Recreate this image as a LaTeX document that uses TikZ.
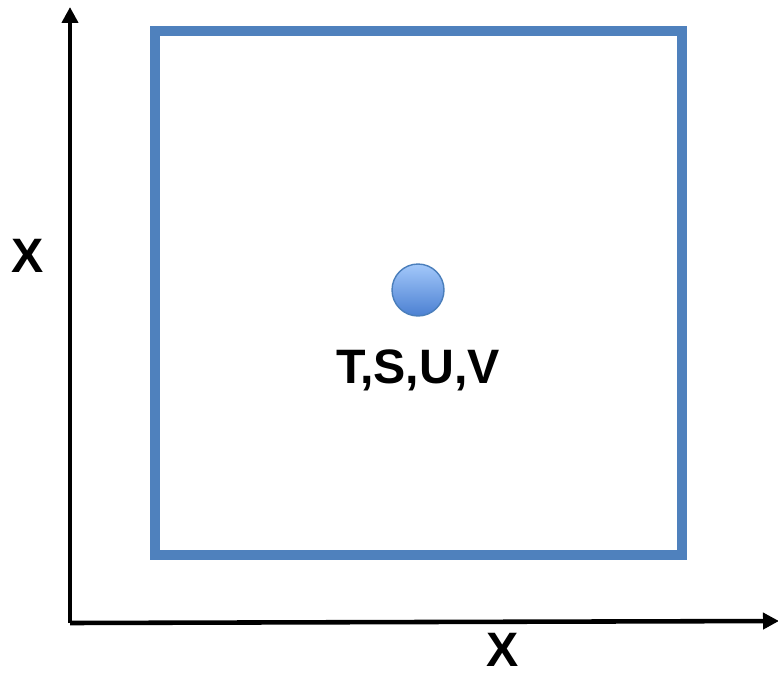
\documentclass[tikz,border=0pt]{standalone}
\usepackage{fontspec}
\setmainfont{Liberation Sans}
\usepackage{xcolor}
\usetikzlibrary{arrows.meta,positioning}

\definecolor{frameblue}{HTML}{4F81BD}
\definecolor{balltop}{HTML}{A3C8FA}
\definecolor{ballbottom}{HTML}{4B80D2}
\definecolor{ballrim}{HTML}{4A7EBB}

\begin{document}
\begin{tikzpicture}[
    x=0.02cm, y=-0.02cm,
    axis/.style={
        line width=2.6pt,
        -{Triangle[width=0.32cm,length=0.32cm]}
    },
    frame/.style={
        draw=frameblue,
        line width=5.6pt
    },
    ball/.style={
        circle,
        draw=ballrim,
        line width=0.8pt,
        top color=balltop,
        bottom color=ballbottom,
        minimum size=1.04cm,
        inner sep=0pt
    },
    lbl/.style={
        font=\fontsize{27.5}{33}\selectfont\bfseries,
        inner sep=0pt
    }
]
\useasboundingbox (0,0) rectangle (778,676);
% axes
\coordinate (origin) at (70,623);
\coordinate (ytip) at (70,7);
\coordinate (xtip) at (779,621);
\draw [axis] (origin) -- (ytip);
\draw [axis] (origin) -- (xtip);
% box and point
\draw [frame] (155,31) rectangle (682,555);
\node (point) [ball] at (418,290) {};
\node (names) [lbl] at (418,370) {T,S,U,V};
% axis labels
\node (ylabel) [lbl] at (28,256) {X};
\node (xlabel) [lbl] at (503,650) {X};
\end{tikzpicture}
\end{document}
